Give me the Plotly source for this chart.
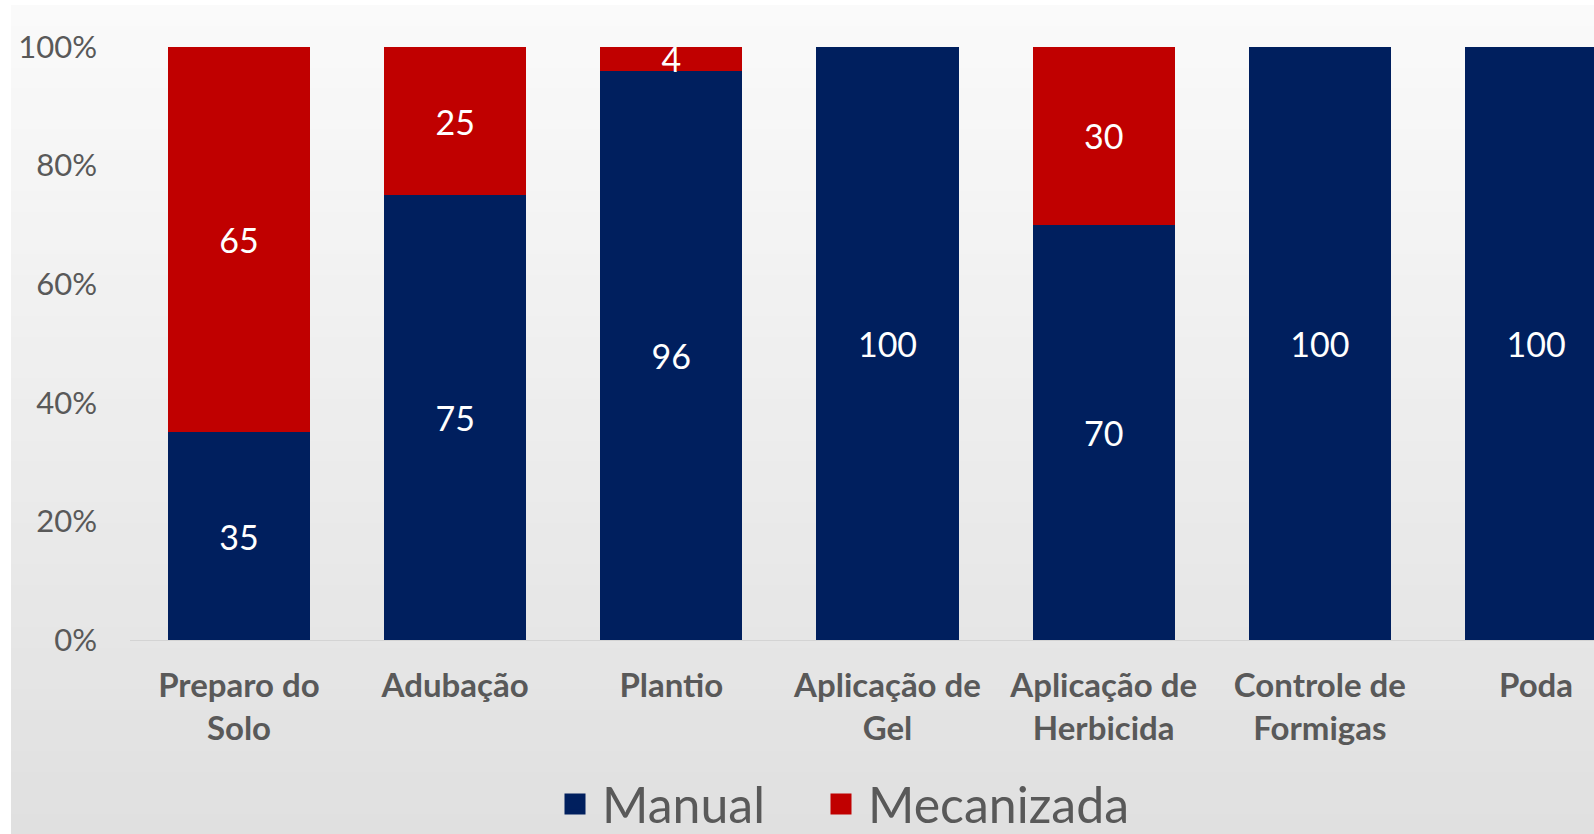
import plotly.graph_objects as go

categories = ["Preparo do<br>Solo", "Adubação", "Plantio", "Aplicação de<br>Gel",
              "Aplicação de<br>Herbicida", "Controle de<br>Formigas", "Poda"]
manual = [35, 75, 96, 100, 70, 100, 100]
mecanizada = [65, 25, 4, 0, 30, 0, 0]
y_ticks = [0, 20, 40, 60, 80, 100]
y_tick_labels = ["0%", "20%", "40%", "60%", "80%", "100%"]

NAVY = "#001F5E"
RED = "#C00000"
FONT = "Lato, 'Open Sans', sans-serif"
GRAY = "#595959"

fig = go.Figure()
fig.add_trace(go.Bar(
    x=categories, y=manual, name="Manual", marker=dict(color=NAVY, line=dict(width=0)),
    text=[str(v) if v else "" for v in manual], textposition="inside",
    insidetextanchor="middle", textangle=0, constraintext="none",
    insidetextfont=dict(family=FONT, size=34, color="white"),
    showlegend=False, legendgroup="man", hoverinfo="x+y"))
fig.add_trace(go.Bar(
    x=categories, y=mecanizada, name="Mecanizada", marker=dict(color=RED, line=dict(width=0)),
    text=[str(v) if v else "" for v in mecanizada], textposition="inside",
    insidetextanchor="middle", textangle=0, constraintext="none",
    insidetextfont=dict(family=FONT, size=34, color="white"),
    showlegend=False, legendgroup="mec", hoverinfo="x+y"))
# legend entries with large square swatches (one legend box each)
for nm, col, grp, lg in [("Manual", NAVY, "man", "legend"), ("Mecanizada", RED, "mec", "legend2")]:
    fig.add_trace(go.Scatter(x=[None], y=[None], mode="markers", name=nm, legendgroup=grp,
                             legend=lg,
                             marker=dict(symbol="square", size=16, color=col,
                                         line=dict(color=col, width=5)),
                             showlegend=True))

# background gradient (white top to light gray bottom)
n = 40
top = (250, 250, 250)
bot = (224, 224, 224)
W, H = 1594, 834
pl, pr, pt, pb = 130, 1594, 47, 640
shapes = []
y_start, y_end = 5, 834
for i in range(n):
    t = i / (n - 1)
    c = tuple(int(round(top[k] + (bot[k] - top[k]) * t)) for k in range(3))
    py0 = y_start + (y_end - y_start) * i / n
    py1 = y_start + (y_end - y_start) * (i + 1) / n + 1
    shapes.append(dict(
        type="rect", xref="paper", yref="paper", layer="below",
        x0=(11 - pl) / (pr - pl), x1=(W + 5 - pl) / (pr - pl),
        y0=(pb - py1) / (pb - pt), y1=(pb - py0) / (pb - pt),
        fillcolor="rgb(%d,%d,%d)" % c, line=dict(width=0)))

legend_common = dict(orientation="h", xref="paper", yref="container", y=0.036,
                     xanchor="left", yanchor="middle", itemsizing="trace", itemwidth=44,
                     font=dict(family=FONT, size=50, color=GRAY), bgcolor="rgba(0,0,0,0)")

fig.update_layout(
    width=1594, height=834,
    barmode="stack", bargap=0.343,
    paper_bgcolor="white", plot_bgcolor="rgba(0,0,0,0)",
    margin=dict(l=130, r=0, t=47, b=194),
    shapes=shapes,
    font=dict(family=FONT, color=GRAY),
    xaxis=dict(range=[-0.504, 6.268], showgrid=False, showline=True, linecolor="#d4d4d4",
               linewidth=1, ticks="", ticklabelstandoff=16,
               tickfont=dict(family=FONT, size=33, color=GRAY, weight="bold")),
    yaxis=dict(range=[0, 100], tickvals=y_ticks, ticktext=y_tick_labels, showgrid=False,
               zeroline=False, showline=False, ticks="", ticklabelstandoff=32,
               tickfont=dict(family=FONT, size=31, color=GRAY)),
    legend=dict(x=(548 - pl) / (pr - pl), **legend_common),
    legend2=dict(x=(814 - pl) / (pr - pl), **legend_common),
)

fig.write_html("out.html", post_script="document.body.style.margin='0px';",
               config={"displayModeBar": False})
